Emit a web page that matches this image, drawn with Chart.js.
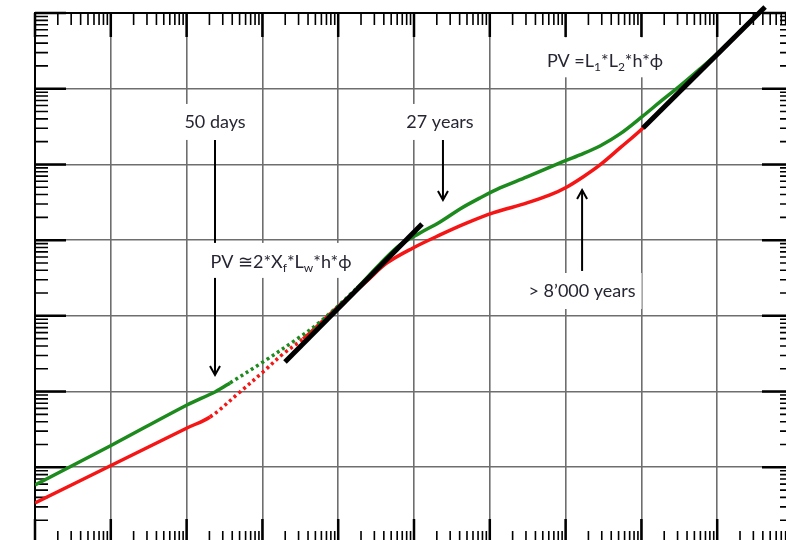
<!DOCTYPE html>
<html><head><meta charset="utf-8">
<script src="https://cdn.jsdelivr.net/npm/chart.js@4/dist/chart.umd.min.js"></script>
<style>
html,body{margin:0;padding:0;background:#fff;overflow:hidden;width:786px;height:540px}
#c{position:absolute;left:0;top:0}
</style></head>
<body><canvas id="c" width="810" height="560"></canvas>
<script>
// Axis ranges (log-log, the original shows no tick labels)
const xMin = 1, xMax = 1e10;
const yMin = 1, yMax = 1e7;

// Green curve
const greenX = [1, 10.37, 101.2, 237, 373.8, 1018, 2861, 5754, 17700, 35600, 65380, 120000, 220300, 404500, 742500, 1.363e6, 3.096e6, 8.436e6, 1.549e7, 2.843e7, 5.22e7, 1.05e8, 1.76e8, 3.23e8, 5.932e8, 1.089e9, 4.272e9];
const greenY = [5.84, 19.71, 66.5, 98.8, 129.9, 246, 495, 831, 2337, 4850, 8643, 12450, 17400, 25830, 36100, 48940, 68380, 104700, 133500, 175500, 252900, 437200, 669300, 1.089e6, 1.827e6, 3.157e6, 1.204e7];
// Red curve
const redX = [1, 10.37, 101.2, 203.6, 506.3, 1018, 1870, 3433, 7795, 23980, 44030, 97000, 220300, 500300, 1.102e6, 3.096e6, 6.228e6, 1.043e7, 1.697e7, 2.843e7, 5.22e7, 1.05e8, 3.23e8, 1.089e9, 4.272e9];
const redY = [3.376, 10.72, 33.05, 46.2, 98.8, 181.5, 313.8, 495.2, 1059, 2891, 4998, 7888, 11710, 16870, 22870, 31000, 39550, 50450, 68380, 98500, 165200, 303500, 935400, 3.063e6, 1.204e7];
// Unit-slope fits
const fit1X = [1987, 127600];
const fit1Y = [246, 16360];
const fit2X = [1.05e8, 4.28e9];
const fit2Y = [303000, 1.20e7];
// Ranges drawn dotted (sparse output points)
const greenDotted = [373.8, 17700];
const redDotted = [203.6, 3433];

const toXY = (xs, ys) => xs.map((v, i) => ({x: v, y: ys[i]}));
const isDecade = v => Math.abs(Math.log10(v) - Math.round(Math.log10(v))) < 1e-6;
function logTicks(min, max) {
  const out = [];
  for (let e = Math.round(Math.log10(min)); e <= Math.round(Math.log10(max)); e++) {
    for (let s = 1; s <= 9; s++) {
      const v = s * Math.pow(10, e);
      if (v <= max * 1.000001) out.push({value: v, major: s === 1});
    }
  }
  return out;
}

const notes = [
  {x: 237, y: 364000, h: 36, dy: 0, parts: [{t: '50 days'}]},
  {x: 220300, y: 364000, h: 36, dy: 0, parts: [{t: '27 years'}]},
  {x: 1.65e7, y: 2130, h: 36, dy: 0, parts: [{t: '> 8\u2019000 years'}]},
  {x: 3.31e7, y: 2.6e6, h: 40, dy: 4, parts: [{t: 'PV =L'}, {t: '1', sub: true}, {t: '*L'}, {t: '2', sub: true}, {t: '*h*\u03D5'}]},
  {x: 1760, y: 5400, h: 35, dy: 2, parts: [{t: 'PV \u22452*X'}, {t: 'f', sub: true}, {t: '*L'}, {t: 'w', sub: true}, {t: '*h*\u03D5'}]}
];
const arrows = [
  {x: 237, from: 211000, to: 166},
  {x: 241000, from: 211000, to: 34000},
  {x: 1.65e7, from: 3920, to: 46000}
];

const fontFor = p => p.sub ? '12px Lato' : '18px Lato';

const decor = {
  id: 'decor',
  beforeDatasetsDraw(chart) {
    const {ctx, chartArea: a, scales: {x, y}} = chart;
    ctx.save();
    // arrows
    ctx.strokeStyle = '#000';
    ctx.lineWidth = 2;
    arrows.forEach(ar => {
      const px = x.getPixelForValue(ar.x), p1 = y.getPixelForValue(ar.from), p2 = y.getPixelForValue(ar.to);
      const d = Math.sign(p2 - p1);
      ctx.beginPath(); ctx.moveTo(px, p1); ctx.lineTo(px, p2); ctx.stroke();
      ctx.beginPath(); ctx.moveTo(px - 5, p2 - d * 9); ctx.lineTo(px, p2); ctx.lineTo(px + 5, p2 - d * 9); ctx.stroke();
    });
    // notes with white boxes
    notes.forEach(n => {
      const cx = x.getPixelForValue(n.x), cy = y.getPixelForValue(n.y);
      let w = 0;
      n.parts.forEach(p => { ctx.font = fontFor(p); w += ctx.measureText(p.t).width; });
      ctx.fillStyle = '#fff';
      ctx.fillRect(cx - w / 2 - 6, cy - n.h / 2, w + 12, n.h);
      let xx = cx - w / 2;
      ctx.textBaseline = 'middle';
      ctx.textAlign = 'left';
      ctx.fillStyle = '#262633';
      n.parts.forEach(p => {
        ctx.font = fontFor(p);
        ctx.fillText(p.t, xx, cy + n.dy + (p.sub ? 6 : 0));
        xx += ctx.measureText(p.t).width;
      });
    });
    // edge ticks (inward)
    ctx.strokeStyle = '#000';
    x.ticks.forEach(t => {
      const px = x.getPixelForValue(t.value);
      const maj = isDecade(t.value);
      const L = maj ? 24 : 12;
      ctx.lineWidth = maj ? 2.5 : 1.6;
      ctx.beginPath();
      ctx.moveTo(px, a.top); ctx.lineTo(px, a.top + L);
      ctx.moveTo(px, a.bottom); ctx.lineTo(px, a.bottom - L);
      ctx.stroke();
    });
    y.ticks.forEach(t => {
      const py = y.getPixelForValue(t.value);
      const maj = isDecade(t.value);
      const L = maj ? 31 : 13;
      ctx.lineWidth = maj ? 2.5 : 1.6;
      ctx.beginPath();
      ctx.moveTo(a.left, py); ctx.lineTo(a.left + L, py);
      ctx.moveTo(a.right, py); ctx.lineTo(a.right - L, py);
      ctx.stroke();
    });
    // frame
    ctx.lineWidth = 2;
    ctx.strokeRect(a.left, a.top, a.right - a.left, a.bottom - a.top);
    ctx.restore();
  }
};

const dashIn = r => ctx => (ctx.p0.parsed.x >= r[0] * 0.999 && ctx.p1.parsed.x <= r[1] * 1.001) ? [3, 3.2] : undefined;
const gridColor = c => (c.tick && isDecade(c.tick.value)) ? '#6e6e6e' : 'rgba(0,0,0,0)';

new Chart(document.getElementById('c'), {
  type: 'line',
  data: {
    datasets: [
      {label: 'fit1', data: toXY(fit1X, fit1Y), borderColor: '#000', borderWidth: 5, pointRadius: 0, clip: false, order: 0},
      {label: 'fit2', data: toXY(fit2X, fit2Y), borderColor: '#000', borderWidth: 5, pointRadius: 0, clip: false, order: 0},
      {label: 'green', data: toXY(greenX, greenY), borderColor: '#1c8a1c', borderWidth: 3.5, pointRadius: 0,
        tension: 0.35, order: 1, segment: {borderDash: dashIn(greenDotted)}},
      {label: 'red', data: toXY(redX, redY), borderColor: '#f51515', borderWidth: 3.5, pointRadius: 0,
        tension: 0.35, order: 2, segment: {borderDash: dashIn(redDotted)}}
    ]
  },
  options: {
    responsive: false,
    animation: false,
    devicePixelRatio: 1,
    layout: {padding: {left: 35, top: 13, right: 17, bottom: 17}},
    plugins: {legend: {display: false}, tooltip: {enabled: false}},
    scales: {
      x: {
        type: 'logarithmic', min: xMin, max: xMax, position: 'bottom',
        afterBuildTicks: s => { s.ticks = logTicks(xMin, xMax); },
        ticks: {display: false},
        border: {display: false},
        grid: {drawTicks: false, lineWidth: 1.6, color: gridColor}
      },
      y: {
        type: 'logarithmic', min: yMin, max: yMax, position: 'left',
        afterBuildTicks: s => { s.ticks = logTicks(yMin, yMax); },
        ticks: {display: false},
        border: {display: false},
        grid: {drawTicks: false, lineWidth: 1.6, color: gridColor}
      }
    }
  },
  plugins: [decor]
});
</script>
</body></html>
